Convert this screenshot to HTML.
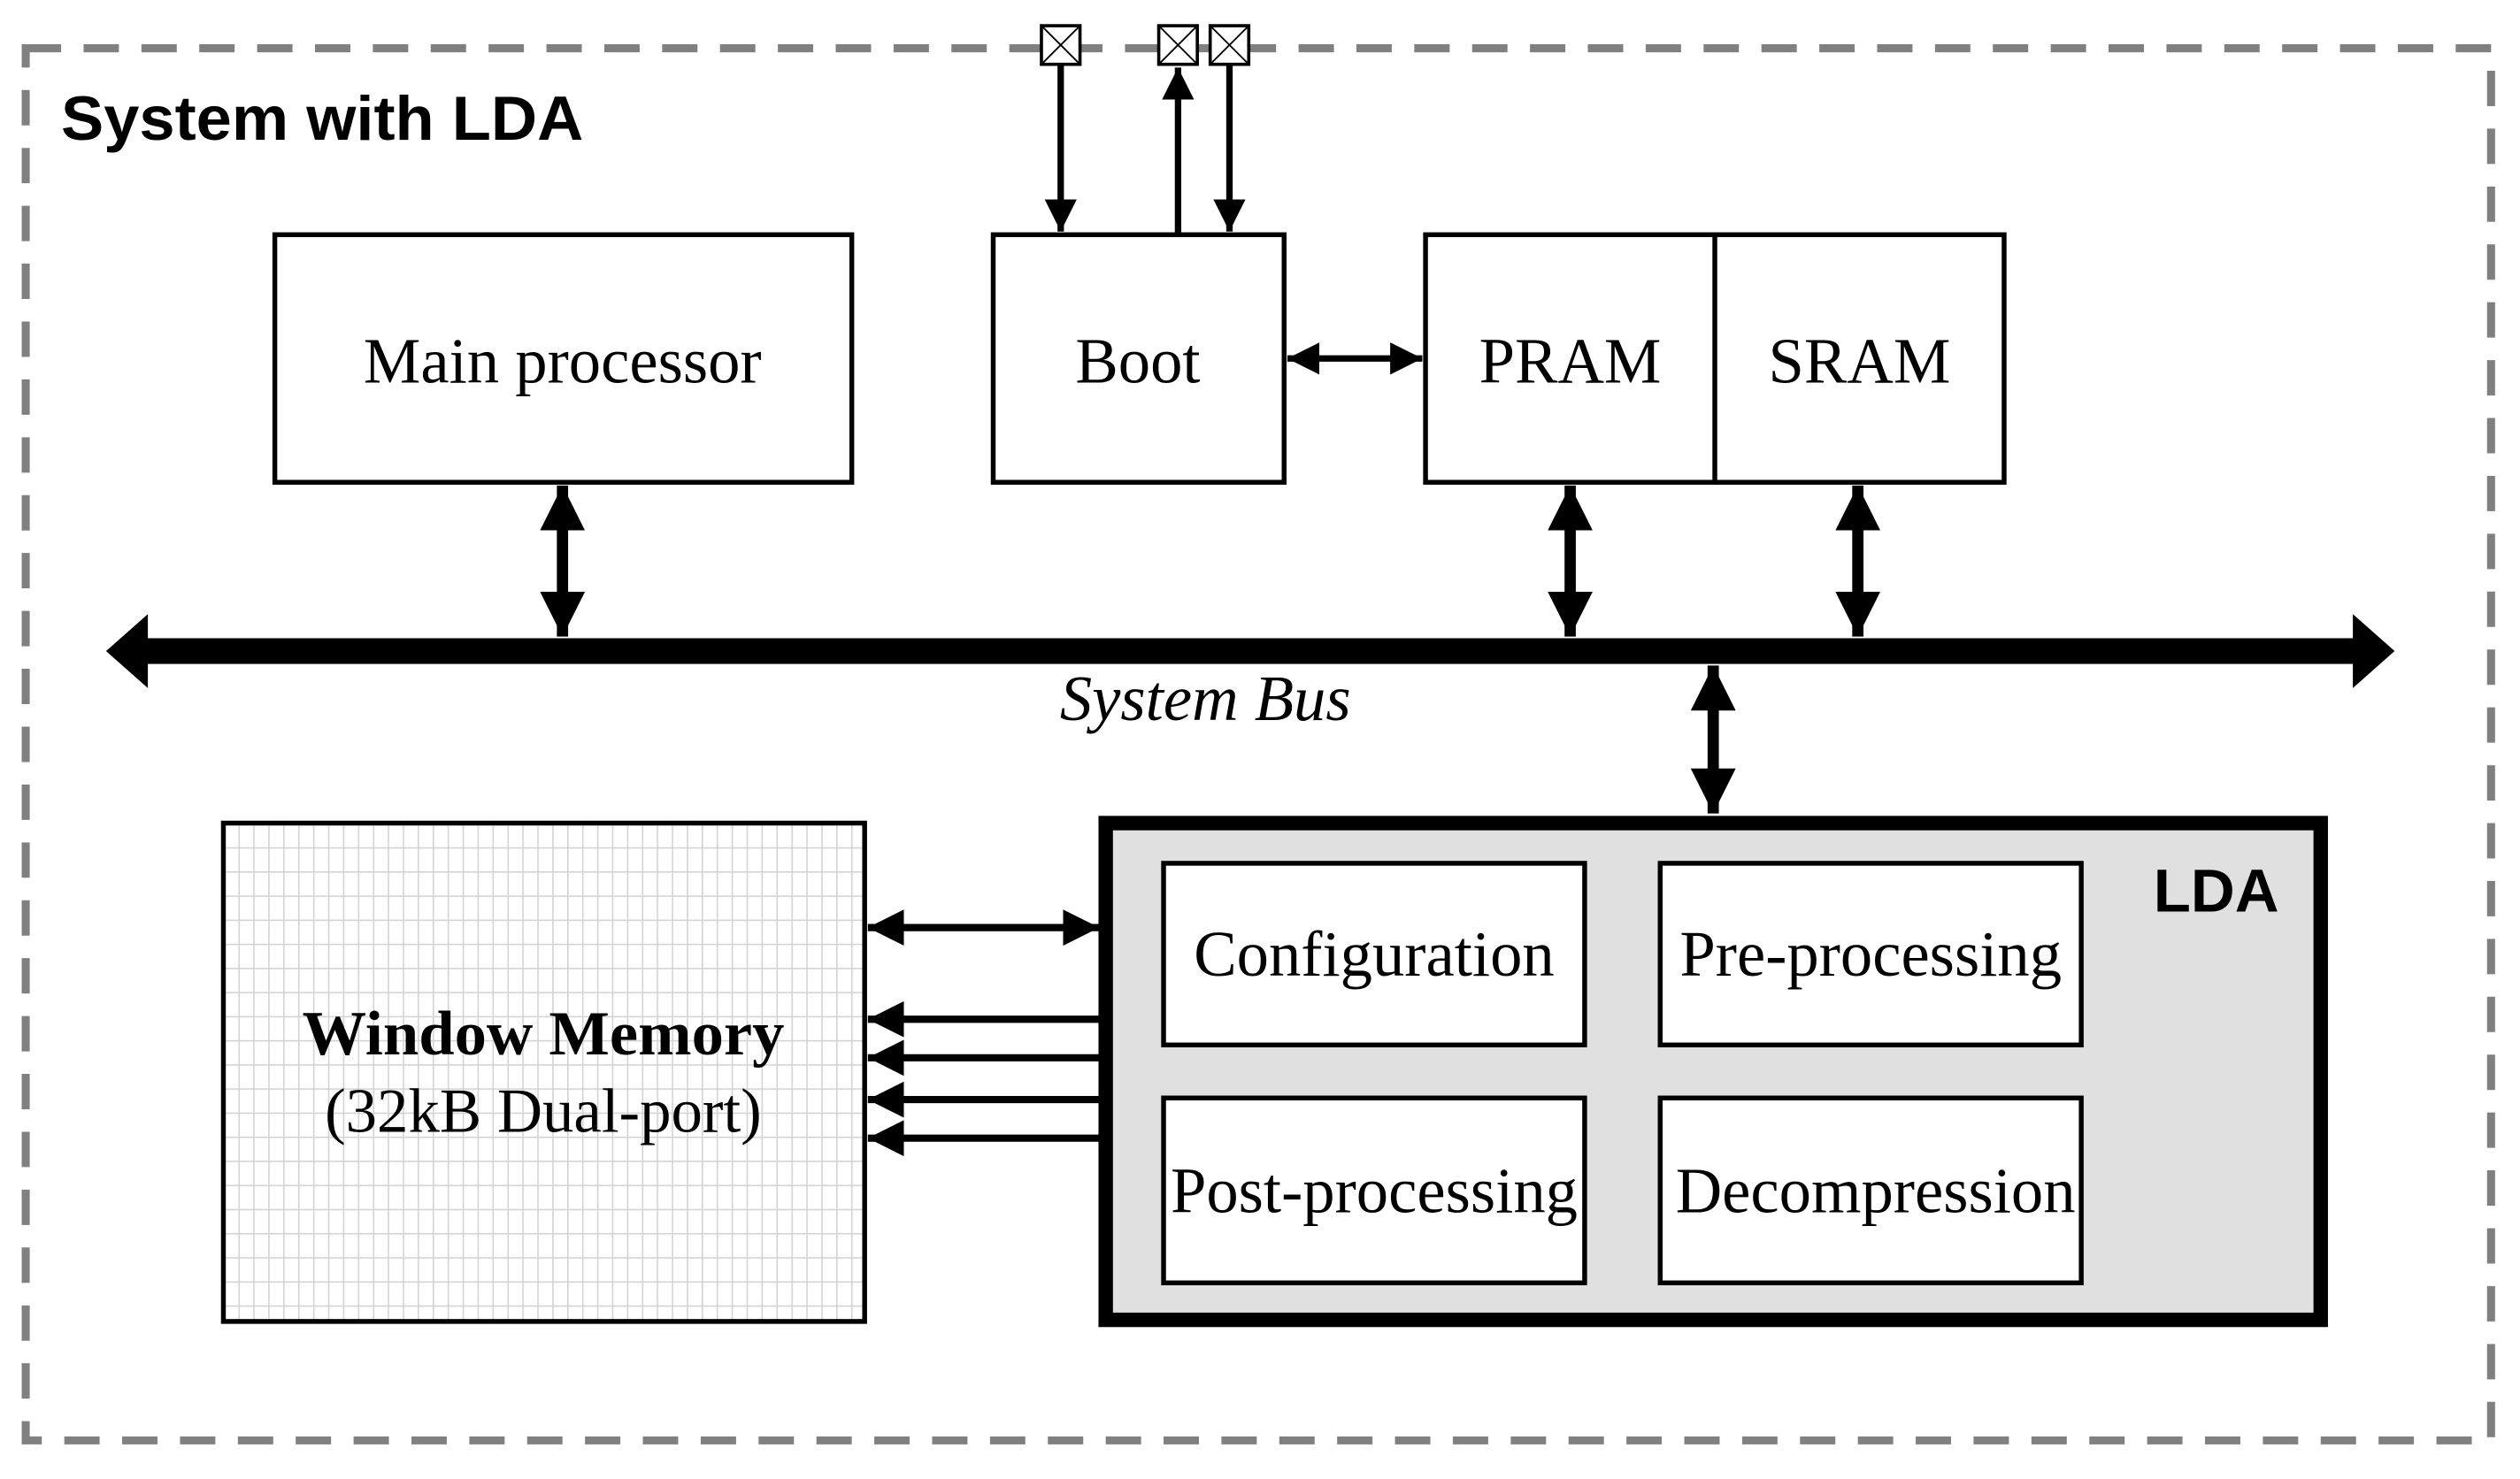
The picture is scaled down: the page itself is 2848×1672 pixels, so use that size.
<!DOCTYPE html>
<html><head><meta charset="utf-8"><style>html,body{margin:0;padding:0;background:#fff}svg{display:block}</style></head>
<body>
<svg width="2848" height="1672" viewBox="0 0 1568 920" preserveAspectRatio="none" xmlns="http://www.w3.org/2000/svg">
<defs>
<pattern id="grid" x="139" y="512" width="9.3" height="15" patternUnits="userSpaceOnUse">
<rect width="9.3" height="15" fill="#fff"/>
<path d="M0 0V15M0 0H9.3" stroke="#d4d4d4" stroke-width="1.8"/>
</pattern>
<marker id="ah" viewBox="0 0 10 10" refX="10" refY="5" markerWidth="4" markerHeight="4" orient="auto-start-reverse" markerUnits="strokeWidth"><path d="M0 0L10 5L0 10z" fill="#000"/></marker>
<marker id="ahs" viewBox="0 0 10 10" refX="10" refY="5" markerWidth="5" markerHeight="5" orient="auto-start-reverse" markerUnits="strokeWidth"><path d="M0 0L10 5L0 10z" fill="#000"/></marker>
</defs>
<rect width="1568" height="920" fill="#fff"/>
<rect x="16" y="30" width="1534" height="866" fill="none" stroke="#808080" stroke-width="5" stroke-dasharray="22 14"/>
<text x="38" y="87" font-family="Liberation Sans, sans-serif" font-weight="bold" font-size="39" textLength="325" lengthAdjust="spacingAndGlyphs">System with LDA</text>

<g fill="none" stroke="#000" stroke-width="3">
<rect x="171" y="146" width="359" height="154" fill="#fff"/>
<rect x="618" y="146" width="181" height="154" fill="#fff"/>
<rect x="887" y="146" width="360" height="154" fill="#fff"/>
<line x1="1067" y1="146" x2="1067" y2="300"/>
</g>
<g font-family="Liberation Serif, serif" font-size="40" text-anchor="middle">
<text x="350" y="238">Main processor</text>
<text x="708" y="238">Boot</text>
<text x="977" y="238">PRAM</text>
<text x="1157" y="238">SRAM</text>
</g>

<g stroke="#000" stroke-width="2" fill="#fff">
<rect x="648" y="16" width="24" height="24"/><path d="M648 16L672 40M672 16L648 40" stroke-width="1"/>
<rect x="721" y="16" width="24" height="24"/><path d="M721 16L745 40M745 16L721 40" stroke-width="1"/>
<rect x="753" y="16" width="24" height="24"/><path d="M753 16L777 40M777 16L753 40" stroke-width="1"/>
</g>
<g stroke="#000" stroke-width="4">
<line x1="660" y1="41" x2="660" y2="144" marker-end="url(#ahs)"/>
<line x1="733" y1="145" x2="733" y2="42" marker-end="url(#ahs)"/>
<line x1="765" y1="41" x2="765" y2="144" marker-end="url(#ahs)"/>
<line x1="801" y1="223" x2="885" y2="223" marker-start="url(#ahs)" marker-end="url(#ahs)"/>
</g>

<rect x="88" y="397" width="1380" height="16" fill="#000"/>
<path d="M66 405L92 382V428z M1490 405L1464 382V428z" fill="#000"/>
<text x="750" y="448" font-family="Liberation Serif, serif" font-style="italic" font-size="40" text-anchor="middle">System Bus</text>
<g stroke="#000" stroke-width="7">
<line x1="350" y1="302" x2="350" y2="396" marker-start="url(#ah)" marker-end="url(#ah)"/>
<line x1="977" y1="302" x2="977" y2="396" marker-start="url(#ah)" marker-end="url(#ah)"/>
<line x1="1156" y1="302" x2="1156" y2="396" marker-start="url(#ah)" marker-end="url(#ah)"/>
<line x1="1066" y1="414" x2="1066" y2="506" marker-start="url(#ah)" marker-end="url(#ah)"/>
</g>

<rect x="139" y="512" width="399" height="310" fill="url(#grid)" stroke="#000" stroke-width="3"/>
<text x="338" y="656" font-family="Liberation Serif, serif" font-weight="bold" font-size="39" text-anchor="middle" textLength="300" lengthAdjust="spacingAndGlyphs">Window Memory</text>
<text x="338" y="704" font-family="Liberation Serif, serif" font-size="39" text-anchor="middle">(32kB Dual-port)</text>

<rect x="688" y="512" width="756" height="309" fill="#e0e0e0" stroke="#000" stroke-width="9"/>
<text x="1418" y="567" font-family="Liberation Sans, sans-serif" font-weight="bold" font-size="38" text-anchor="end">LDA</text>
<g fill="#fff" stroke="#000" stroke-width="3">
<rect x="724" y="537" width="262" height="113"/>
<rect x="1033" y="537" width="262" height="113"/>
<rect x="724" y="683" width="262" height="115"/>
<rect x="1033" y="683" width="262" height="115"/>
</g>
<g font-family="Liberation Serif, serif" font-size="40" text-anchor="middle">
<text x="855" y="607">Configuration</text>
<text x="1164" y="607">Pre-processing</text>
<text x="855" y="754">Post-processing</text>
<text x="1167" y="754">Decompression</text>
</g>

<g stroke="#000" stroke-width="4.5">
<line x1="540" y1="577" x2="684" y2="577" marker-start="url(#ahs)" marker-end="url(#ahs)"/>
<line x1="684" y1="634" x2="540" y2="634" marker-end="url(#ahs)"/>
<line x1="684" y1="658" x2="540" y2="658" marker-end="url(#ahs)"/>
<line x1="684" y1="684" x2="540" y2="684" marker-end="url(#ahs)"/>
<line x1="684" y1="708" x2="540" y2="708" marker-end="url(#ahs)"/>
</g>
</svg>
</body></html>
